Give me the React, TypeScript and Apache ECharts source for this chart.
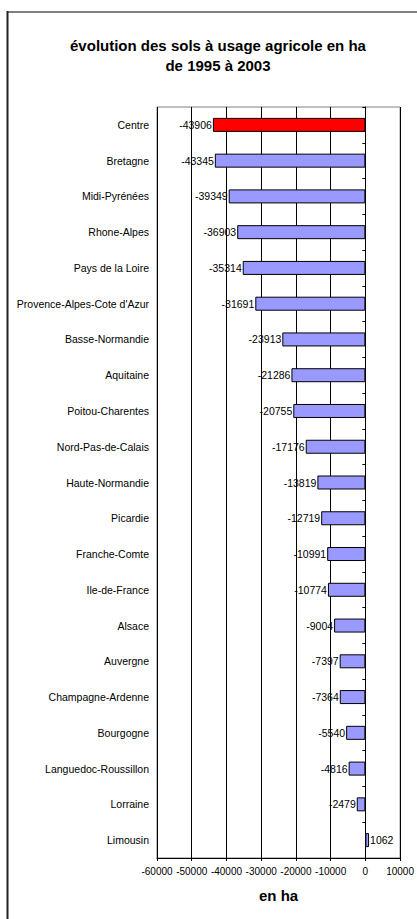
import React, { useEffect, useRef } from "react";
import * as echarts from "echarts";

const categories = [
  "Centre",
  "Bretagne",
  "Midi-Pyrénées",
  "Rhone-Alpes",
  "Pays de la Loire",
  "Provence-Alpes-Cote d'Azur",
  "Basse-Normandie",
  "Aquitaine",
  "Poitou-Charentes",
  "Nord-Pas-de-Calais",
  "Haute-Normandie",
  "Picardie",
  "Franche-Comte",
  "Ile-de-France",
  "Alsace",
  "Auvergne",
  "Champagne-Ardenne",
  "Bourgogne",
  "Languedoc-Roussillon",
  "Lorraine",
  "Limousin",
];

const values = [
  -43906, -43345, -39349, -36903, -35314, -31691, -23913, -21286, -20755,
  -17176, -13819, -12719, -10991, -10774, -9004, -7397, -7364, -5540, -4816,
  -2479, 1062,
];

const highlighted = ["Centre"];

const titleLines = ["évolution des sols à usage agricole en ha", "de 1995 à 2003"];
const axisTitle = "en ha";

const FONT = "'Liberation Sans', Arial, sans-serif";

export default function App() {
  const ref = useRef<HTMLDivElement>(null);

  useEffect(() => {
    if (!ref.current) return;
    const chart = echarts.init(ref.current, null, { renderer: "svg" });
    const data = values.map((v, i) => ({
      value: v,
      itemStyle: {
        color: highlighted.includes(categories[i]) ? "#FF0000" : "#9999FF",
      },
      label: { position: v < 0 ? "left" : "right" },
    }));
    chart.setOption({
      animation: false,
      backgroundColor: "#ffffff",
      title: {
        text: titleLines.join("\n"),
        left: 213,
        top: 30,
        textAlign: "center",
        textStyle: {
          fontFamily: FONT,
          fontSize: 15,
          fontWeight: "bold",
          color: "#000",
          lineHeight: 20,
        },
      },
      graphic: [
        {
          type: "line",
          shape: { x1: 7, y1: 12, x2: 417, y2: 12 },
          style: { stroke: "#808080", lineWidth: 2 },
          silent: true,
        },
        {
          type: "line",
          shape: { x1: 7.5, y1: 11, x2: 7.5, y2: 919 },
          style: { stroke: "#222222", lineWidth: 2 },
          silent: true,
        },
      ],
      grid: {
        left: 157,
        right: 14,
        top: 107,
        bottom: 61,
        show: true,
        borderColor: "#808080",
        borderWidth: 1,
      },
      xAxis: {
        type: "value",
        min: -60000,
        max: 10000,
        interval: 10000,
        name: axisTitle,
        nameLocation: "middle",
        nameGap: 30,
        nameTextStyle: {
          fontFamily: FONT,
          fontSize: 15,
          fontWeight: "bold",
          color: "#000",
        },
        axisLine: { show: true, lineStyle: { color: "#000", width: 1 } },
        axisTick: { show: true, length: 3, lineStyle: { color: "#000" } },
        axisLabel: {
          fontFamily: FONT,
          fontSize: 10,
          color: "#000",
          margin: 8,
          formatter: (v: number) => String(v),
        },
        splitLine: { show: true, lineStyle: { color: "#000", width: 1 } },
      },
      yAxis: [
        {
          type: "category",
          data: categories,
          inverse: true,
          position: "left",
          axisLine: { show: false, onZero: false },
          axisTick: { show: false },
          axisLabel: {
            fontFamily: FONT,
            fontSize: 10.5,
            color: "#000",
            margin: 8,
          },
          splitLine: { show: false },
        },
        {
          type: "category",
          data: categories,
          inverse: true,
          position: "right",
          axisLine: { show: true, onZero: true, lineStyle: { color: "#000" } },
          axisTick: { show: true, inside: true, length: 3, lineStyle: { color: "#000" } },
          axisLabel: { show: false },
          splitLine: { show: false },
        },
      ],
      series: [
        {
          type: "bar",
          data,
          yAxisIndex: 0,
          barWidth: 14,
          itemStyle: { borderColor: "#000", borderWidth: 1 },
          label: {
            show: true,
            distance: 1,
            fontFamily: FONT,
            fontSize: 10.5,
            color: "#000",
          },
        },
      ],
    });
    return () => chart.dispose();
  }, []);

  return (
    <div
      ref={ref}
      style={{ position: "absolute", left: 0, top: 0, width: 417, height: 919 }}
    />
  );
}
